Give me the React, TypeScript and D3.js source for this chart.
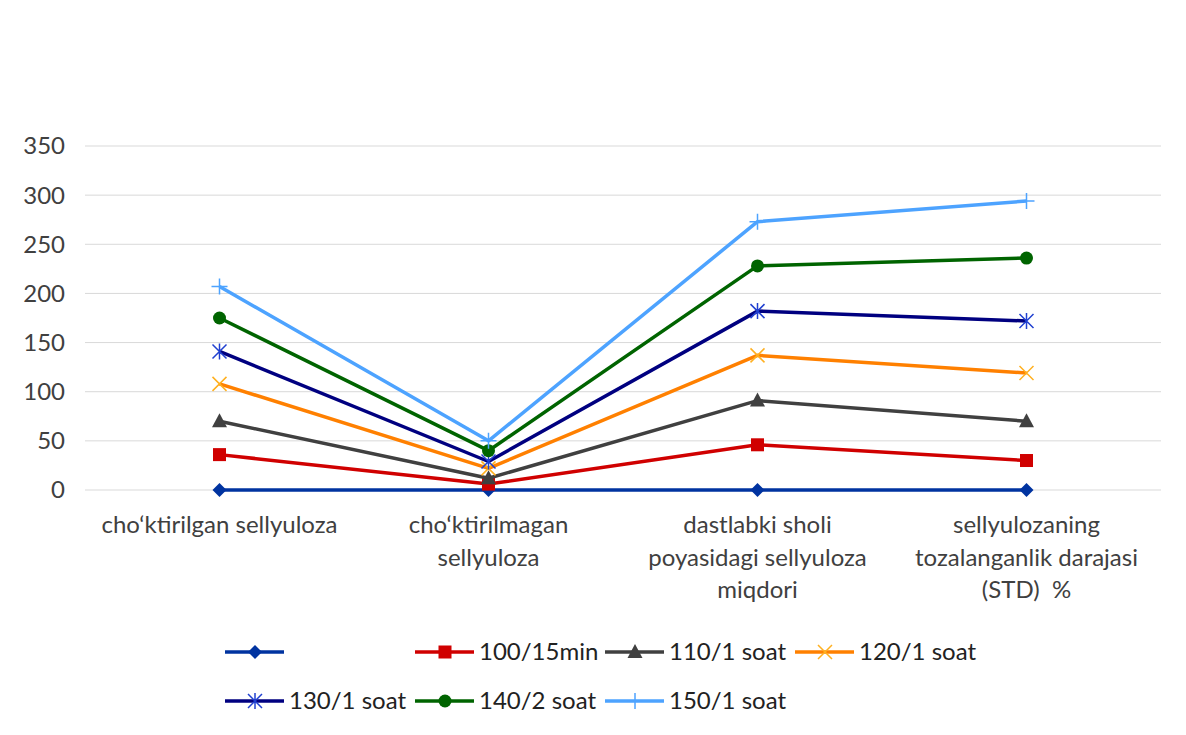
import React from "react";
import * as d3 from "d3";

const categories: string[][] = [
  ["cho‘ktirilgan sellyuloza"],
  ["cho‘ktirilmagan", "sellyuloza"],
  ["dastlabki sholi", "poyasidagi sellyuloza", "miqdori"],
  ["sellyulozaning", "tozalanganlik darajasi", "(STD)  %"],
];

const yTicks = [0, 50, 100, 150, 200, 250, 300, 350];

const seriesNames = ["", "100/15min", "110/1 soat", "120/1 soat", "130/1 soat", "140/2 soat", "150/1 soat"];
const s0 = [0, 0, 0, 0];
const s100 = [36, 6, 46, 30];
const s110 = [70, 12, 91, 70];
const s120 = [108, 22, 137, 119];
const s130 = [141, 29, 182, 172];
const s140 = [175, 40, 228, 236];
const s150 = [207, 50, 273, 294];
const seriesValues = [s0, s100, s110, s120, s130, s140, s150];

const colors = ["#0033A0", "#D00000", "#404040", "#FF8000", "#000080", "#006400", "#4DA3FF"];
const markerColors = ["#0033A0", "#D00000", "#404040", "#FFB020", "#2040D0", "#006400", "#4DA3FF"];
const markers = ["diamond", "square", "triangle", "x", "star", "circle", "plus"];

const FONT = "Lato, 'Open Sans', sans-serif";

function Marker({ type, x, y, color }: { type: string; x: number; y: number; color: string }) {
  const r = 7;
  if (type === "diamond") {
    return <path d={`M${x},${y - 7}L${x + 7},${y}L${x},${y + 7}L${x - 7},${y}Z`} fill={color} />;
  }
  if (type === "square") {
    return <rect x={x - 6.5} y={y - 6.5} width={13} height={13} fill={color} />;
  }
  if (type === "triangle") {
    return <path d={`M${x},${y - 8}L${x + 7.5},${y + 6}L${x - 7.5},${y + 6}Z`} fill={color} />;
  }
  if (type === "circle") {
    return <circle cx={x} cy={y} r={6.5} fill={color} />;
  }
  if (type === "x") {
    return (
      <path d={`M${x - r},${y - r}L${x + r},${y + r}M${x - r},${y + r}L${x + r},${y - r}`} stroke={color} strokeWidth={1.5} fill="none" />
    );
  }
  if (type === "star") {
    return (
      <path
        d={`M${x - r},${y - r}L${x + r},${y + r}M${x - r},${y + r}L${x + r},${y - r}M${x},${y - 8}L${x},${y + 8}`}
        stroke={color}
        strokeWidth={1.5}
        fill="none"
      />
    );
  }
  return <path d={`M${x - 8},${y}L${x + 8},${y}M${x},${y - 8}L${x},${y + 8}`} stroke={color} strokeWidth={1.5} fill="none" />;
}

export default function App() {
  const W = 1186;
  const H = 735;
  const FS = 24;
  const x = d3.scaleBand<number>().domain(d3.range(categories.length)).range([85, 1161]);
  const y = d3.scaleLinear().domain([0, 350]).range([490, 146]);
  const cx = (i: number) => (x(i) as number) + x.bandwidth() / 2;
  const line = d3
    .line<number>()
    .x((_, i) => cx(i))
    .y((d) => y(d));

  const legendItems = [
    { i: 0, lx: 225, ly: 652 },
    { i: 1, lx: 415, ly: 652 },
    { i: 2, lx: 605, ly: 652 },
    { i: 3, lx: 795, ly: 652 },
    { i: 4, lx: 225, ly: 701 },
    { i: 5, lx: 415, ly: 701 },
    { i: 6, lx: 605, ly: 701 },
  ];

  return (
    <svg width={W} height={H} style={{ position: "absolute", left: 0, top: 0, background: "#fff" }} fontFamily={FONT}>
      <rect width={W} height={H} fill="#fff" />
      {yTicks.map((t) => (
        <g key={t}>
          <line x1={85} x2={1161} y1={y(t)} y2={y(t)} stroke="#D9D9D9" strokeWidth={1} />
          <text x={65} y={y(t)} dy="0.35em" textAnchor="end" fontSize={FS} fill="#404040">
            {t}
          </text>
        </g>
      ))}
      {categories.map((lines, i) => (
        <text key={i} textAnchor="middle" fontSize={FS} fill="#404040" style={{ whiteSpace: "pre" }}>
          {lines.map((l, j) => (
            <tspan key={j} x={cx(i)} y={533 + j * 32.5}>
              {l}
            </tspan>
          ))}
        </text>
      ))}
      {seriesValues.map((vals, s) => (
        <g key={s}>
          <path d={line(vals) || ""} fill="none" stroke={colors[s]} strokeWidth={3.5} strokeLinejoin="round" />
          {vals.map((v, i) => (
            <Marker key={i} type={markers[s]} x={cx(i)} y={y(v)} color={markerColors[s]} />
          ))}
        </g>
      ))}
      {legendItems.map(({ i, lx, ly }) => (
        <g key={i}>
          <line x1={lx} x2={lx + 59} y1={ly} y2={ly} stroke={colors[i]} strokeWidth={3.5} />
          <Marker type={markers[i]} x={lx + 30} y={ly} color={markerColors[i]} />
          <text x={lx + 64} y={ly} dy="0.35em" fontSize={FS} fill="#222">
            {seriesNames[i]}
          </text>
        </g>
      ))}
    </svg>
  );
}
